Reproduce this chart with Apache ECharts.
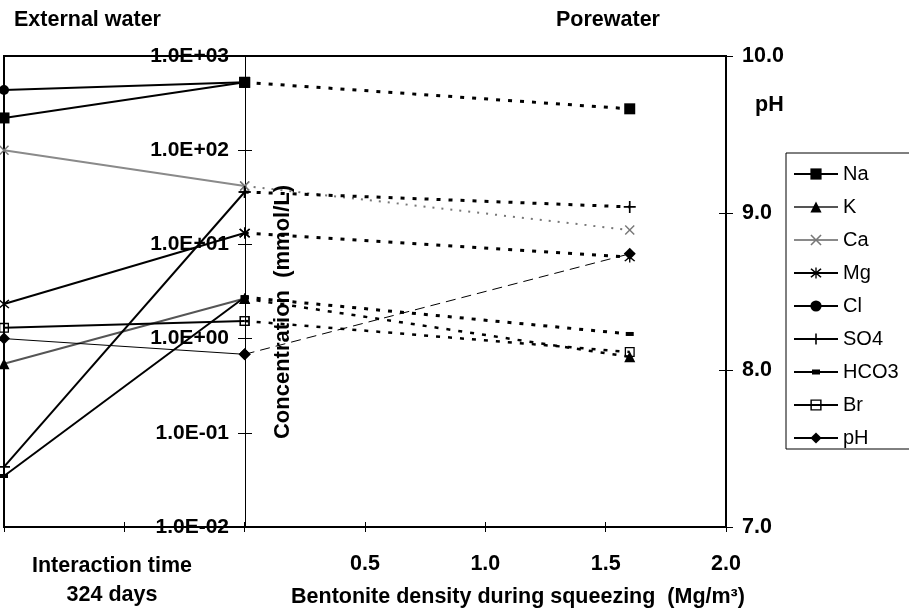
<!DOCTYPE html>
<html><head><meta charset="utf-8">
<script src="https://cdn.jsdelivr.net/npm/echarts@6/dist/echarts.min.js"></script>
<style>html,body{margin:0;padding:0;background:#fff}#c{width:909px;height:615px}</style>
</head><body><div id="c"></div>
<script>
// x positions: -1 = start of interaction, 0 = end of 324 days / start of squeezing, 1.6 = squeezing density
const extX = [-1, 0];
const poreX = [0, 1.6];
// concentrations (mmol/L), external water then porewater
const naExt = [220, 525],   naPore = [525, 275];
const kExt = [0.54, 2.66],  kPore = [2.66, 0.64];
const caExt = [100, 41.7],  caPore = [41.7, 14.2];
const mgExt = [2.33, 13.2], mgPore = [13.2, 7.35];
const clExt = [436, 525];
const so4Ext = [0.0434, 36], so4Pore = [36, 25];
const hco3Ext = [0.0348, 2.75], hco3Pore = [2.75, 1.12];
const brExt = [1.30, 1.54], brPore = [1.54, 0.72];
// pH (right axis)
const phExt = [8.20, 8.10], phPore = [8.10, 8.74];
const legendNames = ['Na','K','Ca','Mg','Cl','SO4','HCO3','Br','pH'];
const xTickMin = -1, xTickMax = 2, xTickStep = 0.5;
const logMin = 0.01, logMax = 1000;
const phMin = 7, phMax = 10, phStep = 1;

const FF = '"Liberation Sans", Arial, sans-serif';
const FS = 21.5;
const SYM = {
  x: 'path://M0,1L1,0L5,4L9,0L10,1L6,5L10,9L9,10L5,6L1,10L0,9L4,5Z',
  star: 'path://M0,1L1,0L5,4L9,0L10,1L6,5L10,9L9,10L5,6L1,10L0,9L4,5Z M4.4,-1H5.6V11H4.4Z',
  plus: 'path://M4.3,0H5.7V4.3H10V5.7H5.7V10H4.3V5.7H0V4.3H4.3Z',
  hollowRect: 'path://M0,0H10V10H0Z M1.3,1.3V8.7H8.7V1.3Z'
};
function pts(xs, ys){ return xs.map((x,i)=>[x, ys[i]]); }
function mk(name, xs, ys, sym, size, color, lw, type, yi, mcolor){
  return {type:'line', name, xAxisIndex:0, yAxisIndex:yi, data:pts(xs,ys),
    symbol:sym, symbolSize:size, showSymbol:true, showAllSymbol:true,
    itemStyle:{color: mcolor || '#000'}, lineStyle:{color, width:lw, type},
    emphasis:{disabled:true}, animation:false, z:2};
}
const DOT = [4,8], GDOT = [2,7], DASH = [10,6];
const series = [
  mk('Na', extX, naExt, 'rect', 11, '#000', 2, 'solid', 0),
  mk('K', extX, kExt, 'triangle', 11, '#555', 2, 'solid', 0),
  mk('Ca', extX, caExt, SYM.x, 10, '#8a8a8a', 2, 'solid', 0, '#777'),
  mk('Mg', extX, mgExt, SYM.star, 11, '#000', 2, 'solid', 0),
  mk('Cl', extX, clExt, 'circle', 10, '#000', 2, 'solid', 0),
  mk('SO4', extX, so4Ext, SYM.plus, 12, '#000', 2, 'solid', 0),
  mk('HCO3', extX, hco3Ext, 'rect', [8,4], '#000', 2, 'solid', 0),
  mk('Br', extX, brExt, SYM.hollowRect, 10, '#000', 2, 'solid', 0),
  mk('pH', extX, phExt, 'diamond', 12, '#000', 1, 'solid', 1),
  mk('Na', poreX, naPore, 'rect', 11, '#000', 3, DOT, 0),
  mk('K', poreX, kPore, 'triangle', 11, '#000', 2.5, DOT, 0),
  mk('Ca', poreX, caPore, SYM.x, 10, '#777', 2, GDOT, 0, '#777'),
  mk('Mg', poreX, mgPore, SYM.star, 11, '#000', 3, DOT, 0),
  mk('SO4', poreX, so4Pore, SYM.plus, 12, '#000', 3, DOT, 0),
  mk('HCO3', poreX, hco3Pore, 'rect', [8,4], '#000', 3, DOT, 0),
  mk('Br', poreX, brPore, SYM.hollowRect, 10, '#000', 2.5, DOT, 0),
  mk('pH', poreX, phPore, 'diamond', 12, '#000', 1, DASH, 1)
];
function expLabel(v){
  const e = Math.round(Math.log10(Number(v)));
  const a = Math.abs(e);
  return '1.0E' + (e < 0 ? '-' : '+') + (a < 10 ? '0' + a : a);
}
const lblBold = {fontSize:FS, fontWeight:'bold', color:'#000', fontFamily:FF};
const legendData = legendNames.map(n => n === 'HCO3'
  ? {name:n, icon:'path://M0,2H44V4H0Z M18,0.5H26V5.5H18Z'}
  : {name:n});
const chart = echarts.init(document.getElementById('c'), null, {renderer:'canvas'});
chart.setOption({
  backgroundColor:'#fff',
  animation:false,
  title:[
    {text:'External water', left:14, top:9, padding:0, textStyle:Object.assign({}, lblBold)},
    {text:'Porewater', left:556, top:9, padding:0, textStyle:Object.assign({}, lblBold)}
  ],
  grid:{left:4, top:56, right:183, bottom:88, containLabel:false, outerBoundsMode:'none',
    show:true, borderColor:'#000', borderWidth:2, backgroundColor:'transparent'},
  legend:{orient:'vertical', left:786, top:153, data:legendData,
    itemWidth:44, itemHeight:14, itemGap:13, padding:[11,22,1,7],
    borderColor:'#000', borderWidth:1, backgroundColor:'#fff',
    lineStyle:{width:2},
    textStyle:{fontSize:20, color:'#000', fontFamily:FF}, selectedMode:false},
  xAxis:[
    {type:'value', min:xTickMin, max:xTickMax, interval:xTickStep, position:'bottom',
     axisLine:{show:true, onZero:false, lineStyle:{color:'#000', width:2}},
     axisTick:{show:true, length:5, lineStyle:{color:'#000', width:1}},
     axisLabel:Object.assign({formatter:v=> v > 0 ? v.toFixed(1) : '', margin:26, showMinLabel:true, showMaxLabel:true}, lblBold),
     splitLine:{show:false}},
    {type:'value', min:xTickMin, max:xTickMax, interval:xTickStep, position:'bottom',
     axisLine:{show:false, onZero:false},
     axisTick:{show:true, inside:true, length:5, lineStyle:{color:'#000', width:1}},
     axisLabel:{show:false}, splitLine:{show:false}}
  ],
  yAxis:[
    {type:'log', logBase:10, min:logMin, max:logMax, position:'left', offset:-241,
     axisLine:{show:true, onZero:false, lineStyle:{color:'#000', width:1}},
     axisTick:{show:true, length:7, lineStyle:{color:'#000'}},
     minorTick:{show:false},
     axisLabel:Object.assign({formatter:expLabel, margin:16, showMinLabel:true, showMaxLabel:true, hideOverlap:false}, lblBold, {fontSize:21}),
     splitLine:{show:false}},
    {type:'value', min:phMin, max:phMax, interval:phStep, position:'right',
     axisLine:{show:true, onZero:false, lineStyle:{color:'#000', width:2}},
     axisTick:{show:true, length:7, lineStyle:{color:'#000'}},
     axisLabel:Object.assign({formatter:v=>v.toFixed(1), margin:16, showMinLabel:true, showMaxLabel:true}, lblBold),
     splitLine:{show:false}},
    {type:'log', logBase:10, min:logMin, max:logMax, position:'left', offset:-241,
     axisLine:{show:false, onZero:false},
     axisTick:{show:true, inside:true, length:7, lineStyle:{color:'#000'}},
     axisLabel:{show:false}, splitLine:{show:false}},
    {type:'value', min:phMin, max:phMax, interval:phStep, position:'right',
     axisLine:{show:false, onZero:false},
     axisTick:{show:true, inside:true, length:7, lineStyle:{color:'#000'}},
     axisLabel:{show:false}, splitLine:{show:false}}
  ],
  graphic:[
    {type:'text', x:112, y:566, style:{text:'Interaction time', textAlign:'center', textVerticalAlign:'middle', fill:'#000', font:'bold ' + FS + 'px ' + FF}},
    {type:'text', x:112, y:595, style:{text:'324 days', textAlign:'center', textVerticalAlign:'middle', fill:'#000', font:'bold ' + FS + 'px ' + FF}},
    {type:'text', x:518, y:597, style:{text:'Bentonite density during squeezing  (Mg/m³)', textAlign:'center', textVerticalAlign:'middle', fill:'#000', font:'bold ' + FS + 'px ' + FF}},
    {type:'text', x:283, y:312, rotation:Math.PI/2, style:{text:'Concentration  (mmol/L)', textAlign:'center', textVerticalAlign:'middle', fill:'#000', font:'bold 22px ' + FF}},
    {type:'text', x:755, y:105, style:{text:'pH', textAlign:'left', textVerticalAlign:'middle', fill:'#000', font:'bold ' + FS + 'px ' + FF}}
  ],
  series
});
</script></body></html>
